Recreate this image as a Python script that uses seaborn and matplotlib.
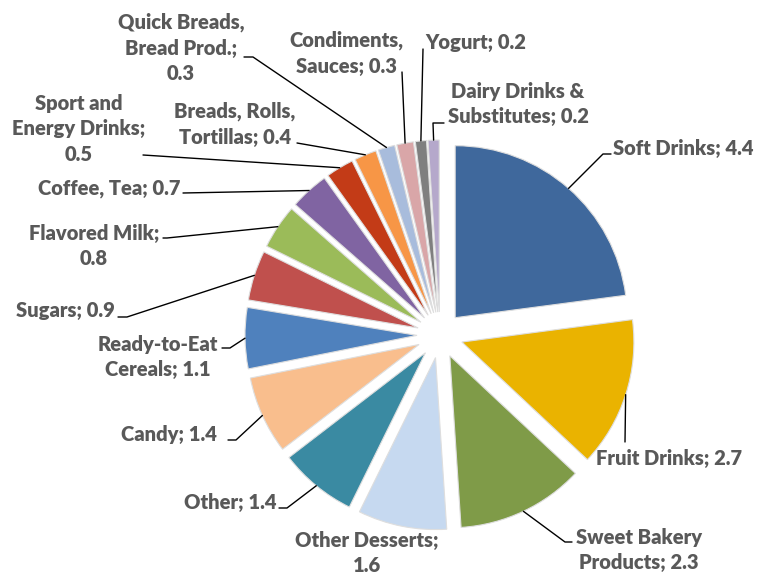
import numpy as np
import matplotlib.pyplot as plt
import seaborn as sns

# data
categories = ["Soft Drinks", "Fruit Drinks", "Sweet Bakery\nProducts", "Other Desserts;\n", "Other",
              "Candy", "Ready-to-Eat\nCereals", "Sugars", "Flavored Milk;\n", "Coffee, Tea",
              "Sport and\nEnergy Drinks;\n", "Breads, Rolls,\nTortillas", "Quick Breads,\nBread Prod.;\n",
              "Condiments,\nSauces", "Yogurt", "Dairy Drinks &\nSubstitutes"]
values = [4.4, 2.7, 2.3, 1.6, 1.4, 1.4, 1.1, 0.9, 0.8, 0.7, 0.5, 0.4, 0.3, 0.3, 0.2, 0.2]
colors = ["#3F689C", "#EAB300", "#7F9B48", "#C6D9F0", "#3A8AA2", "#F9BE8D", "#4F81BD", "#C0504D",
          "#9BBB59", "#8064A2", "#C33B17", "#F79646", "#A8BCDC", "#D9A6A8", "#7F7F7F", "#B5A8CB"]

# layout (pixel coords, y down)
cx, cy, R = 440, 335, 172
label_pos = [(613, 149, "left"), (669, 458, "center"), (639, 550, "center"), (367, 553, "center"),
             (276, 503, "right"), (217, 434, "right"), (158, 357, "center"), (115, 311, "right"),
             (94, 246, "center"), (180, 189, "right"), (79, 129, "center"), (235, 124, "center"),
             (181, 48, "center"), (346, 53, "center"), (425, 43, "left"), (518, 104, "center")]
leaders = [[(603, 154), (611, 154)], [(625, 442)], [(565, 542), (572, 542)], [],
           [(287, 508), (279, 508)], [(236, 440), (228, 440)], [(230, 348), (222, 348)],
           [(127, 317), (118, 317)], [(167, 238), (163, 238)], [(183, 193)], [(143, 155)],
           [(297, 143)], [(253, 57), (244, 57)], [(402, 72)], [(423, 49)], [(433, 123), (444, 123)]]

sns.set_theme(style="white")
plt.rcParams['font.family'] = ['Lato', 'DejaVu Sans']

fig = plt.figure(figsize=(7.59, 5.75), dpi=100)
ax = fig.add_axes([0, 0, 1, 1])
pal = sns.color_palette(colors)
# explode is in data units here since radius is in pixels
wedges, _ = ax.pie(values, colors=pal, explode=[23] * len(values), radius=R, center=(cx, cy),
                   startangle=-90, counterclock=True, frame=True,
                   wedgeprops=dict(edgecolor="#dedede", linewidth=0.8))
ax.set_xlim(0, 759)
ax.set_ylim(575, 0)
ax.axis("off")

for w, name, v, (tx, ty, ha), pts in zip(wedges, categories, values, label_pos, leaders):
    if name.endswith("\n"):
        txt = name + f"{v}"
    else:
        txt = f"{name}; {v}"
    ax.text(tx, ty, txt, ha=ha, va="center", fontsize=14.5, fontweight="heavy",
            color="#595959", linespacing=1.42)
    if pts:
        mid = np.deg2rad((w.theta1 + w.theta2) / 2)
        wx, wy = w.center
        sx, sy = wx + w.r * np.cos(mid), wy + w.r * np.sin(mid)
        xs = [sx] + [p[0] for p in pts]
        ys = [sy] + [p[1] for p in pts]
        ax.plot(xs, ys, color="black", lw=1)

fig.savefig("out.png", dpi=100)
